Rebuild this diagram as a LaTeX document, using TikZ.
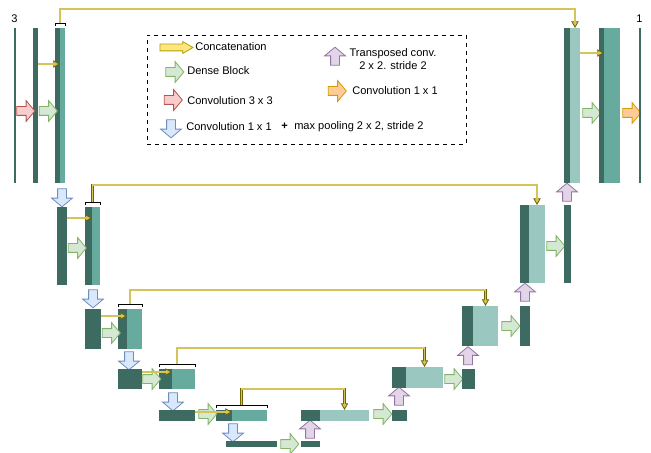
\documentclass[tikz,border=0pt]{standalone}
\usepackage{fontspec}
\setmainfont{Liberation Sans}
\usetikzlibrary{arrows.meta, positioning, shapes.arrows, fit, calc}

\definecolor{dkbar}{HTML}{3D6B61}
\definecolor{tlbar}{HTML}{67AB9F}
\definecolor{ltbar}{HTML}{9AC7BF}
\definecolor{grfill}{HTML}{D5E8D4}
\definecolor{grline}{HTML}{82B366}
\definecolor{rdfill}{HTML}{F8CECC}
\definecolor{rdline}{HTML}{B85450}
\definecolor{blfill}{HTML}{DAE8FC}
\definecolor{blline}{HTML}{6C8EBF}
\definecolor{pufill}{HTML}{E1D5E7}
\definecolor{puline}{HTML}{9673A6}
\definecolor{orfill}{HTML}{FFCC99}
\definecolor{orline}{HTML}{D79B00}
\definecolor{ylfill}{HTML}{FFE680}
\definecolor{ylline}{HTML}{B3A000}
\definecolor{skline}{HTML}{6E6400}
\definecolor{skfill}{HTML}{D4C45A}

\tikzset{
  blk/.style={inner sep=0pt, outer sep=0pt, draw=none},
  dk/.style={blk, fill=dkbar},
  tl/.style={blk, fill=tlbar},
  lt/.style={blk, fill=ltbar},
  barrow/.style={single arrow, line width=0.6pt, inner sep=3pt,
    single arrow head extend=4.5pt, single arrow head indent=0pt,
    single arrow tip angle=100, minimum height=13.5pt},
  dense/.style={barrow, fill=grfill, draw=grline},
  conv/.style={barrow, fill=rdfill, draw=rdline},
  pooldown/.style={barrow, fill=blfill, draw=blline, shape border rotate=270},
  transup/.style={barrow, fill=pufill, draw=puline, shape border rotate=90},
  outconv/.style={barrow, fill=orfill, draw=orline},
  catarrow/.style={single arrow, line width=0.6pt, inner sep=2.25pt,
    single arrow head extend=1.9pt, single arrow head indent=0pt,
    single arrow tip angle=60, minimum height=24.75pt, fill=ylfill, draw=ylline},
  skip/.style={draw=skline, line width=2.1pt,
    -{Triangle[length=5pt, width=5.5pt, line width=0.6pt, fill=skfill]},
    postaction={draw=skfill, line width=0.9pt, -, shorten >=3pt}},
  brace/.style={draw=black, line width=0.6pt},
  lbl/.style={font=\fontsize{8.3}{9.2}\selectfont, inner sep=0pt},
}

\begin{document}
\begin{tikzpicture}[x=0.75pt, y=-0.75pt]
  \useasboundingbox (0,0) rectangle (651,453);

  % Legend
  \node[draw, dashed, line width=0.5pt, inner sep=0pt, fit={(147,35) (466,144)}] (legend) {};
  \node[catarrow] (lcat) at (173.5,47.5) {};
  \node[lbl, anchor=west] (lcattxt) at (195,47) {Concatenation};
  \node[dense] (ldense) at (173,72) {};
  \node[lbl, anchor=west] (ldensetxt) at (187,71) {Dense Block};
  \node[conv] (lconv) at (171.5,100) {};
  \node[lbl, anchor=west] (lconvtxt) at (187,101) {Convolution 3 x 3};
  \node[pooldown] (lpool) at (171,127) {};
  \node[lbl, anchor=west] (lpooltxt) at (186,127) {Convolution 1 x 1};
  \node[lbl] (lplus) at (284.5,126.5) {\textbf{+}};
  \node[lbl, anchor=west] (lmaxtxt) at (294,127) {max pooling 2 x 2, stride 2};
  \node[transup] (ltrans) at (335,58) {};
  \node[lbl, align=center] (ltranstxt) at (393,59) {Transposed conv.\\2 x 2. stride 2};
  \node[outconv] (lout) at (335.5,91) {};
  \node[lbl, anchor=west] (louttxt) at (352,91) {Convolution 1 x 1};

  % Encoder level 0
  \node[dk, fit={(14,28) (15.5,183)}] (in0) {};
  \node[lbl] (in0txt) at (14.5,19) {3};
  \node[dk, fit={(33,28) (38,183)}] (c0) {};
  \node[dk, fit={(55,28) (60,183)}] (e0d) {};
  \node[tl, fit={(60,28) (65,183)}] (e0t) {};
  \node[blk, fit=(e0d)(e0t)] (e0) {};
  \node[conv] (cv0) at (24,111) {};
  \node[dense] (db0) at (46.5,111) {};
  \draw[skip] ([yshift=-27pt]c0.north east) -- ([yshift=-27pt]e0d.north east);

  % Encoder level 1
  \node[pooldown] (pl0) at (62,196) {};
  \node[dk, fit={(57,207) (67,285)}] (c1) {};
  \node[dk, fit={(85,207) (92,285)}] (e1d) {};
  \node[tl, fit={(92,207) (100,285)}] (e1t) {};
  \node[blk, fit=(e1d)(e1t)] (e1) {};
  \node[dense] (db1) at (75.5,248) {};
  \draw[skip] ([yshift=-8.25pt]c1.north east) -- ([yshift=-8.25pt]e1d.north east);

  % Encoder level 2
  \node[pooldown] (pl1) at (93,297) {};
  \node[dk, fit={(85,309) (101,349)}] (c2) {};
  \node[dk, fit={(118,309) (127,349)}] (e2d) {};
  \node[tl, fit={(127,309) (142,349)}] (e2t) {};
  \node[blk, fit=(e2d)(e2t)] (e2) {};
  \node[dense] (db2) at (109.5,333) {};
  \draw[skip] ([yshift=-5.25pt]c2.north east) -- ([yshift=-5.25pt]e2d.north east);

  % Encoder level 3
  \node[pooldown] (pl2) at (129,359) {};
  \node[dk, fit={(118,369) (142,389)}] (c3) {};
  \node[dk, fit={(159,369) (172,389)}] (e3d) {};
  \node[tl, fit={(172,369) (195,389)}] (e3t) {};
  \node[blk, fit=(e3d)(e3t)] (e3) {};
  \node[dense] (db3) at (150,379) {};
  \draw[skip] ([yshift=-2.25pt]c3.north east) -- ([yshift=-2.25pt]e3d.north east);

  % Encoder level 4
  \node[pooldown] (pl3) at (173,400) {};
  \node[dk, fit={(159,410) (195,421)}] (c4) {};
  \node[dk, fit={(216,410) (232,421)}] (e4d) {};
  \node[tl, fit={(232,410) (267,421)}] (e4t) {};
  \node[blk, fit=(e4d)(e4t)] (e4) {};
  \node[dense] (db4) at (206,414) {};
  \draw[skip] ([yshift=-1.5pt]c4.north east) -- ([yshift=-1.5pt]e4d.north east);

  % Bottleneck
  \node[pooldown] (pl4) at (233,431) {};
  \node[dk, fit={(226,441) (277,447)}] (b5) {};
  \node[dense] (db5) at (288,444) {};
  \node[dk, fit={(301,441) (320,447)}] (u5) {};

  % Decoder level 4
  \node[transup] (tr4) at (310,431) {};
  \node[dk, fit={(301,410) (320,421)}] (d4d) {};
  \node[lt, fit={(320,410) (369,421)}] (d4t) {};
  \node[dense] (ub4) at (381,414) {};
  \node[dk, fit={(392,410) (407,421)}] (u4) {};

  % Decoder level 3
  \node[transup] (tr3) at (399,398) {};
  \node[dk, fit={(392,367) (406,388)}] (d3d) {};
  \node[lt, fit={(406,367) (443,388)}] (d3t) {};
  \node[dense] (ub3) at (452,379) {};
  \node[dk, fit={(462,369) (475,389)}] (u3) {};

  % Decoder level 2
  \node[transup] (tr2) at (468,357.5) {};
  \node[dk, fit={(462,306) (473,346)}] (d2d) {};
  \node[lt, fit={(473,306) (498,346)}] (d2t) {};
  \node[dense] (ub2) at (509,326) {};
  \node[dk, fit={(520,306) (530,346)}] (u2) {};

  % Decoder level 1
  \node[transup] (tr1) at (525,294) {};
  \node[dk, fit={(520,205) (529,283)}] (d1d) {};
  \node[lt, fit={(529,205) (545,283)}] (d1t) {};
  \node[dense] (ub1) at (554,246) {};
  \node[dk, fit={(564,205) (571,283)}] (u1) {};

  % Decoder level 0
  \node[transup] (tr0) at (567,194) {};
  \node[dk, fit={(564,28) (570,183)}] (d0d) {};
  \node[lt, fit={(570,28) (580,183)}] (d0t) {};
  \node[dense] (ub0) at (590,113) {};
  \node[dk, fit={(599,28) (604,183)}] (o0d) {};
  \node[tl, fit={(604,28) (620,183)}] (o0t) {};
  \node[outconv] (oc0) at (630,113) {};
  \node[dk, fit={(639,28) (640.5,183)}] (out) {};
  \node[lbl] (outtxt) at (639.5,19) {1};
  \draw[skip] ([yshift=-18.75pt]d0t.north east) -- ([yshift=-18.75pt]o0d.north east);

  % Brackets and skip connections
  \foreach \e/\d/\h in {e0/d0t/10.5pt, e1/d1t/12.75pt, e2/d2t/10.5pt, e3/d3t/12pt, e4/d4t/12pt}{
    \draw[brace] ([yshift=1.25pt]\e.north west) -- ++(0,2.5pt) -| ([yshift=1.25pt]\e.north east);
    \draw[skip] ([yshift=3.75pt]\e.north) -- ++(0,\h) -| (\d.north);
  }
\end{tikzpicture}
\end{document}
